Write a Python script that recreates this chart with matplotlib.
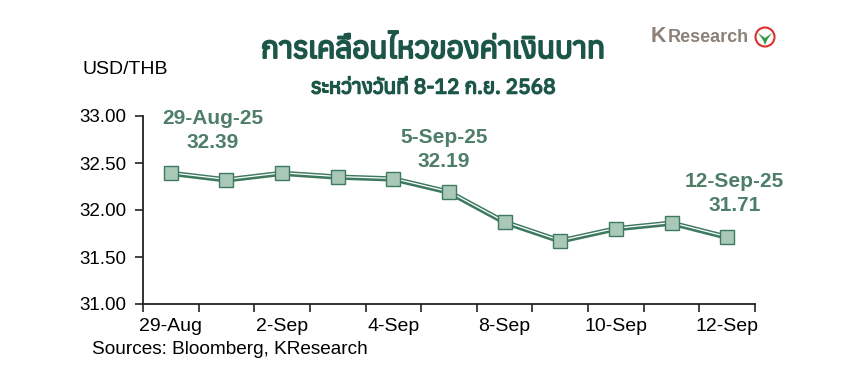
import matplotlib
matplotlib.use("Agg")
import matplotlib.pyplot as plt
import matplotlib.font_manager as fm
from matplotlib.ft2font import FT2Font
from matplotlib.patches import Circle, Polygon
from matplotlib.transforms import IdentityTransform
import matplotlib.patheffects as pe

# ---- data ----
dates = ["29-Aug", "1-Sep", "2-Sep", "3-Sep", "4-Sep", "5-Sep",
         "8-Sep", "9-Sep", "10-Sep", "11-Sep", "12-Sep"]
values = [32.39, 32.32, 32.39, 32.35, 32.33, 32.19,
          31.87, 31.67, 31.80, 31.86, 31.71]
shown_labels = ["29-Aug", "2-Sep", "4-Sep", "8-Sep", "10-Sep", "12-Sep"]
yticks = [31.00, 31.50, 32.00, 32.50, 33.00]
annotations = [("29-Aug-25", "32.39", 0), ("5-Sep-25", "32.19", 5), ("12-Sep-25", "31.71", 10)]
title = "การเคลื่อนไหวของค่าเงินบาท"
subtitle = "ระหว่างวันที่ 8-12 ก.ย. 2568"

# ---- find a font with Thai glyphs ----
thai_fonts = []
for f in fm.fontManager.ttflist:
    try:
        if 0x0E01 in FT2Font(f.fname).get_charmap():
            thai_fonts.append(f.name)
    except Exception:
        pass
thai_fonts = sorted(set(thai_fonts))
title_family = (thai_fonts[:1] if thai_fonts else []) + ["Liberation Sans", "DejaVu Sans"]

plt.rcParams["font.family"] = ["Liberation Sans", "DejaVu Sans"]

DARK = "#3d7a5f"
FILL = "#a9c8b8"
ANN = "#4e7d68"
TITLE = "#1c5646"

fig = plt.figure(figsize=(8.6, 3.76), dpi=100)
ax = fig.add_axes([143/860, 1-304/376, (755-143)/860, (304-116)/376])

x = list(range(len(dates)))
ax.plot(x, values, color=DARK, lw=3.8, solid_joinstyle="round", zorder=2)
ax.plot(x, values, color="white", lw=0.9, zorder=3,
        path_effects=[pe.Stroke(offset=(0, 0.4), linewidth=0.9, foreground="white")])
ax.plot(x, values, ls="none", marker="s", ms=9.5, mfc=FILL, mec=DARK, mew=1.0, zorder=4)

ax.set_xlim(-0.5, len(dates)-0.5)
ax.set_ylim(31, 33)
ax.set_yticks(yticks)
ax.set_yticklabels([f"{v:.2f}" for v in yticks], fontsize=13.5)
ax.set_xticks([i - 0.5 for i in range(len(dates)+1)])
ax.set_xticklabels([])
ax.set_xticks([dates.index(d) for d in shown_labels], minor=True)
ax.set_xticklabels(shown_labels, minor=True, fontsize=14)
ax.tick_params(axis="x", which="major", direction="out", length=6, width=1.2, color="#222222")
ax.tick_params(axis="x", which="minor", length=0, pad=10)
ax.tick_params(axis="y", direction="out", length=6, width=1.2, color="#222222", pad=6)
for s in ["top", "right"]:
    ax.spines[s].set_visible(False)
for s in ["left", "bottom"]:
    ax.spines[s].set_linewidth(1.3)
    ax.spines[s].set_color("#222222")

offsets = {0: (0.75, 32.845), 5: (4.91, 32.644), 10: (10.13, 32.176)}
for lab, val, idx in annotations:
    tx, ty = offsets[idx]
    ax.text(tx, ty, f"{lab}\n{val}", ha="center", va="center", fontsize=15,
            fontweight="bold", color=ANN, linespacing=1.35)

fig.text(82/860, 1-70/376, "USD/THB", fontsize=14, ha="left", va="center")
fig.text(92/860, 1-349/376, "Sources: Bloomberg, KResearch", fontsize=13.7, ha="left", va="center")

fig.text(433/860, 1-50/376, title, family=title_family, fontsize=21.5,
         color=TITLE, ha="center", va="center",
         path_effects=[pe.withStroke(linewidth=1.4, foreground=TITLE)])
fig.text(433/860, 1-88/376, subtitle, family=title_family, fontsize=15,
         color=TITLE, ha="center", va="center",
         path_effects=[pe.withStroke(linewidth=1.1, foreground=TITLE)])

# logo
fig.text(651/860, 1-37/376, "K", fontsize=15.5, fontweight="bold",
         color="#8c8178", ha="left", va="center")
fig.text(668/860, 1-37.5/376, "Research", fontsize=13, fontweight="bold",
         color="#8c8178", ha="left", va="center")
circ = Circle((765, 376-37), radius=9.5, transform=IdentityTransform(),
              facecolor="white", edgecolor="#d9302c", lw=1.5)
fig.patches.append(circ)
leaf = Polygon([(758, 376-33), (765, 376-38), (772, 376-33), (767, 376-40),
                (765, 376-45), (763, 376-40)],
               closed=True, transform=IdentityTransform(), facecolor="#2f9a3c", edgecolor="none")
fig.patches.append(leaf)

fig.savefig("out.png", dpi=100)
